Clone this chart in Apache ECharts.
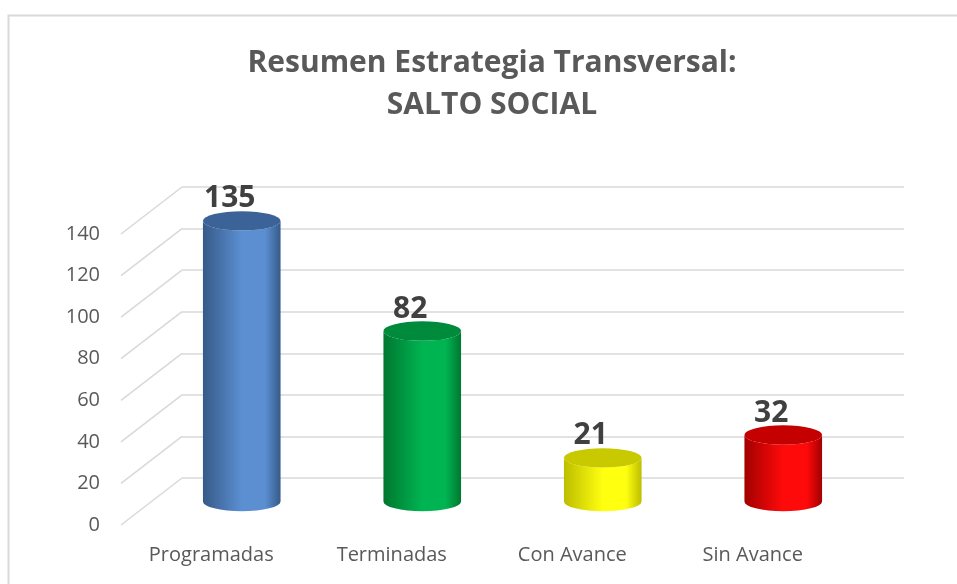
<!DOCTYPE html>
<html>
<head>
<meta charset="utf-8">
<script src="https://cdn.jsdelivr.net/npm/echarts@6/dist/echarts.min.js"></script>
<style>
  html, body { margin: 0; padding: 0; background: #fff; }
  #chart { width: 957px; height: 584px; }
</style>
</head>
<body>
<div id="chart"></div>
<script>
// datos del grafico
const categories = ['Programadas', 'Terminadas', 'Con Avance', 'Sin Avance'];
const values = [135, 82, 21, 32];
const yTicks = [0, 20, 40, 60, 80, 100, 120, 140];
const titleLines = ['Resumen Estrategia Transversal:', 'SALTO SOCIAL'];

// colores de los cilindros: [borde oscuro, centro claro, tapa]
const palette = [
  ['#375a88', '#5b8fd2', '#3c6397'],
  ['#00772f', '#00b452', '#008a3c'],
  ['#bdbd00', '#ffff10', '#c9c900'],
  ['#a30000', '#ff0a0a', '#c40000']
];

const DX = 30.5, DY = 23.5; // desplazamiento de profundidad
const font = '"Open Sans", Lato, sans-serif';

var myChart = echarts.init(document.getElementById('chart'));

const option = {
  animation: false,
  backgroundColor: '#fff',
  graphic: [
    {
      type: 'rect',
      left: 6, top: 13,
      shape: { width: 1000, height: 700 },
      style: { fill: 'none', stroke: '#d9d9d9', lineWidth: 2 }
    },
    {
      // titulo
      type: 'text',
      x: 492, y: 42,
      style: {
        text: titleLines.join('\n'),
        textAlign: 'center',
        fontFamily: font,
        fontWeight: 'bold',
        fontSize: 30,
        lineHeight: 42,
        fill: '#595959'
      }
    }
  ],
  grid: [
    // pared del fondo
    { left: 182, right: 53, top: 187, bottom: 106 },
    // plano medio (cilindros)
    { left: 182 - DX, right: 53 + DX, top: 187 + DY, bottom: 106 - DY },
    // plano frontal (etiquetas)
    { left: 182 - 2 * DX, right: 53 + 2 * DX, top: 187 + 2 * DY, bottom: 106 - 2 * DY }
  ],
  xAxis: [
    { gridIndex: 0, type: 'category', data: categories, show: false },
    { gridIndex: 1, type: 'category', data: categories, show: false },
    {
      gridIndex: 2, type: 'category', data: categories,
      axisLine: { show: false }, axisTick: { show: false },
      axisLabel: { fontFamily: font, fontSize: 20, color: '#595959', margin: 20 }
    }
  ],
  yAxis: [
    {
      gridIndex: 0, type: 'value', min: 0, max: 140, interval: 20,
      axisLabel: { show: false }, axisLine: { show: false }, axisTick: { show: false },
      splitLine: { lineStyle: { color: '#d9d9d9', width: 1.5 } }
    },
    { gridIndex: 1, type: 'value', min: 0, max: 140, interval: 20, show: false },
    {
      gridIndex: 2, type: 'value', min: 0, max: 140, interval: 20,
      axisLine: { show: false }, axisTick: { show: false }, splitLine: { show: false },
      axisLabel: { fontFamily: font, fontSize: 20, color: '#595959', margin: 21 }
    }
  ],
  series: [
    {
      // lineas diagonales del lateral izquierdo
      type: 'custom',
      xAxisIndex: 0, yAxisIndex: 0,
      data: yTicks.map(v => [0, v]),
      silent: true,
      renderItem: function (params, api) {
        const y = api.coord([0, api.value(1)])[1];
        const x = params.coordSys.x;
        return {
          type: 'line',
          shape: { x1: x, y1: y, x2: x - 2 * DX, y2: y + 2 * DY },
          style: { stroke: '#d9d9d9', lineWidth: 1.5 }
        };
      }
    },
    {
      // cilindros
      type: 'custom',
      xAxisIndex: 1, yAxisIndex: 1,
      data: values.map((v, i) => [i, v]),
      renderItem: function (params, api) {
        const i = api.value(0);
        const top = api.coord([i, api.value(1)]);
        const bot = api.coord([i, 0]);
        const w = api.size([1, 0])[0] * 0.43;
        const rx = w / 2, ry = w * 0.125;
        const l = top[0] - rx, r = top[0] + rx;
        const c = palette[i];
        const body = 'M' + l + ' ' + top[1] + ' L' + l + ' ' + bot[1] +
          ' A' + rx + ' ' + ry + ' 0 0 0 ' + r + ' ' + bot[1] +
          ' L' + r + ' ' + top[1] +
          ' A' + rx + ' ' + ry + ' 0 0 1 ' + l + ' ' + top[1] + ' Z';
        const cap = 'M' + l + ' ' + top[1] +
          ' A' + rx + ' ' + ry + ' 0 1 0 ' + r + ' ' + top[1] +
          ' A' + rx + ' ' + ry + ' 0 1 0 ' + l + ' ' + top[1] + ' Z';
        return {
          type: 'group',
          children: [
            {
              type: 'path',
              shape: { pathData: body },
              style: {
                fill: new echarts.graphic.LinearGradient(0, 0, 1, 0, [
                  { offset: 0, color: c[0] },
                  { offset: 0.5, color: c[1] },
                  { offset: 0.8, color: c[1] },
                  { offset: 1, color: c[0] }
                ])
              }
            },
            {
              type: 'path',
              shape: { pathData: cap },
              style: { fill: c[2] }
            }
          ]
        };
      }
    },
    {
      // etiquetas de datos
      type: 'bar',
      xAxisIndex: 1, yAxisIndex: 1,
      data: values,
      barWidth: '43%',
      itemStyle: { color: 'rgba(0,0,0,0)' },
      silent: true,
      label: {
        show: true,
        position: 'top',
        distance: 7,
        offset: [-12, 0],
        fontFamily: font,
        fontWeight: 'bold',
        fontSize: 30,
        color: '#404040'
      }
    }
  ]
};

myChart.setOption(option);
</script>
</body>
</html>
